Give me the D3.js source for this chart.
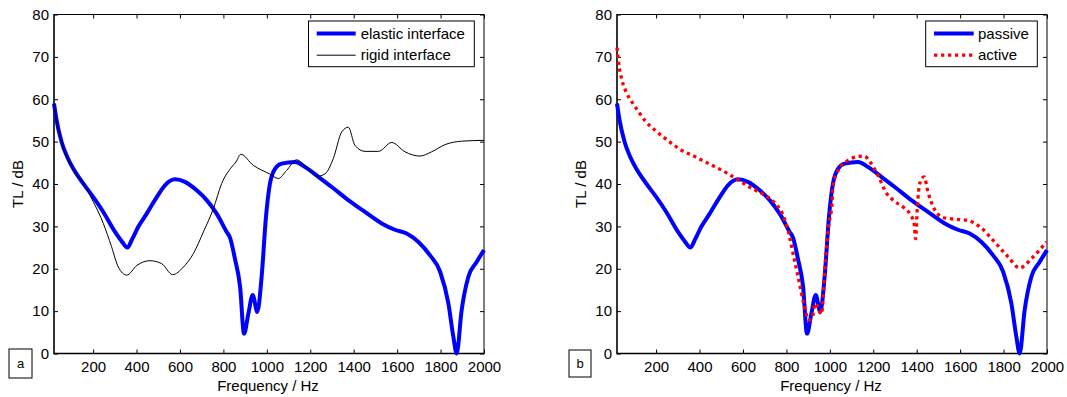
<!DOCTYPE html>
<html>
<head>
<meta charset="utf-8">
<script src="https://cdn.jsdelivr.net/npm/d3@7"></script>
<style>
  html, body { margin: 0; padding: 0; background: #fff; }
  svg { display: block; font-family: "Liberation Sans", Arial, sans-serif; }
</style>
</head>
<body>
<svg id="chart" width="1067" height="397"></svg>
<script>
// ---------------- data ----------------
const xTicks = [200, 400, 600, 800, 1000, 1200, 1400, 1600, 1800, 2000];
const yTicks = [0, 10, 20, 30, 40, 50, 60, 70, 80];

// elastic interface (panel a) == passive (panel b)
const elastic = [
  [20,59],[32,55],[55,49.9],[80,46.5],[109,43.6],[155,40.1],[201,36.9],[247,33.4],[301,28.7],
  [330,26.6],[358,25.0],[380,27],[408,29.9],[447,33],[493,36.9],[531,39.7],[577,41.1],[623,40.5],
  [677,38.5],[723,36.2],[769,33],[815,28.7],[830,27.4],[853,22.4],[877,15.7],[895,4.7],[915,9.4],
  [935,13.8],[956,9.8],[976,18.1],[996,32.2],[1014,40],[1038,43.6],[1068,44.8],[1130,45.2],
  [1176,44],[1237,41.7],[1299,39.3],[1375,36.2],[1452,33.4],[1529,30.7],[1590,29.2],[1644,28.3],
  [1698,26.3],[1751,23.2],[1798,19.3],[1836,11.8],[1859,3.9],[1874,0],[1897,10.2],[1928,18.1],
  [1966,21.6],[2000,24.4]
];

const rigid = [
  [20,58.8],[32,55],[55,49.9],[109,43.4],[155,40.1],[201,35.8],[247,30.7],[285,25.2],[316,20.4],
  [355,18.5],[402,20.8],[462,21.9],[516,21.2],[566,18.6],[616,20.4],[662,23.6],[708,28.7],
  [754,34.2],[792,40.1],[838,44],[858,45.2],[880,47],[938,44.4],[1012,42.4],[1053,41.3],
  [1091,43.2],[1137,45.7],[1183,44],[1230,41.8],[1268,42.4],[1306,46],[1345,52.3],[1375,53.4],
  [1406,49.1],[1452,47.7],[1514,47.7],[1575,49.8],[1636,47.6],[1705,46.6],[1759,47.6],
  [1821,49.3],[1897,50.1],[2000,50.3]
];

const passive = elastic;

const active = [
  [20,72.2],[28,68.4],[43,64.5],[66,61.3],[89,59.3],[120,57],[150,54.9],[204,52.3],[258,50.1],
  [319,47.9],[381,46.4],[442,44.8],[504,43.2],[573,41.1],[642,38.9],[703,37.3],[749,35.4],
  [780,33.2],[807,29.1],[834,22.8],[857,17.3],[880,11.8],[903,7.9],[918,8.3],[933,11.8],
  [948,10.6],[961,9.3],[979,21.2],[994,29.9],[1010,35.4],[1014,39.3],[1038,43.2],[1084,45.6],
  [1122,46.4],[1157,46.6],[1191,44.8],[1222,42],[1260,37.9],[1299,35.9],[1337,34.6],[1368,33],
  [1388,30.7],[1395,27.1],[1403,34.6],[1414,40.1],[1434,41.7],[1452,38.1],[1480,34.2],
  [1521,32.1],[1575,31.7],[1636,31.4],[1698,29.6],[1759,26.3],[1821,22.8],[1874,20.2],
  [1928,22.4],[1997,26.3]
];

// ---------------- drawing ----------------
const svg = d3.select("#chart");
const FONT = 15;
const yTop = 14.5, yBot = 353.5;

function panel(opts) {
  const g = svg.append("g");
  const x = d3.scaleLinear().domain([20, 2000]).range([opts.x0, opts.x1]);
  const y = d3.scaleLinear().domain([0, 80]).range([yBot, yTop]);

  // axes (ticks inward)
  const ax = g.append("g").attr("transform", `translate(0,${yBot})`)
    .call(d3.axisBottom(x).tickValues(xTicks).tickSize(-4).tickPadding(7.5).tickFormat(d3.format("d")));
  const axTop = g.append("g").attr("transform", `translate(0,${yTop})`)
    .call(d3.axisTop(x).tickValues(xTicks).tickSize(-4).tickFormat(""));
  const ay = g.append("g").attr("transform", `translate(${opts.x0},0)`)
    .call(d3.axisLeft(y).tickValues(yTicks).tickSize(-4).tickPadding(5));
  const ayR = g.append("g").attr("transform", `translate(${opts.x1},0)`)
    .call(d3.axisRight(y).tickValues(yTicks).tickSize(-4).tickFormat(""));
  [ax, axTop, ay, ayR].forEach(a => {
    a.select(".domain").remove();
    a.selectAll("line").attr("stroke", "#000").attr("stroke-width", 1);
    a.selectAll("text").attr("font-size", FONT).attr("fill", "#000")
      .attr("font-family", '"Liberation Sans", Arial, sans-serif');
  });

  // frame
  g.append("line").attr("x1", opts.x0).attr("x2", opts.x1).attr("y1", yTop).attr("y2", yTop)
    .attr("stroke", "#000").attr("stroke-width", 1);
  g.append("line").attr("x1", opts.x1).attr("x2", opts.x1).attr("y1", yTop).attr("y2", yBot)
    .attr("stroke", "#000").attr("stroke-width", 1);
  g.append("line").attr("x1", opts.x0).attr("x2", opts.x1 + 0.5).attr("y1", yBot).attr("y2", yBot)
    .attr("stroke", "#000").attr("stroke-width", 1.6);
  g.append("line").attr("x1", opts.x0).attr("x2", opts.x0).attr("y1", yTop - 0.5).attr("y2", yBot + 0.8)
    .attr("stroke", "#000").attr("stroke-width", 1.6);

  // series
  const line = d3.line().curve(d3.curveMonotoneX).x(d => x(d[0])).y(d => y(d[1]));
  opts.series.forEach(s => {
    g.append("path").datum(s.data).attr("d", line)
      .attr("fill", "none").attr("stroke", s.color).attr("stroke-width", s.width)
      .attr("stroke-dasharray", s.dash || null)
      .attr("stroke-linejoin", "round");
  });

  // legend
  const L = opts.legend;
  g.append("rect").attr("x", L.x).attr("y", 21).attr("width", L.w).attr("height", 45.7)
    .attr("fill", "#fff").attr("stroke", "#000").attr("stroke-width", 1);
  L.items.forEach((it, i) => {
    const yy = 33.5 + i * 21.7;
    g.append("line").attr("x1", L.lx0).attr("x2", L.lx1).attr("y1", yy).attr("y2", yy)
      .attr("stroke", it.color).attr("stroke-width", it.width)
      .attr("stroke-dasharray", it.dash || null);
    g.append("text").attr("x", L.tx).attr("y", yy).attr("dy", "0.35em")
      .attr("font-size", FONT).attr("fill", "#000").text(it.label);
  });

  // axis titles
  g.append("text").attr("x", (opts.x0 + opts.x1) / 2 - 1).attr("y", 391)
    .attr("text-anchor", "middle").attr("font-size", FONT).text("Frequency / Hz");
  g.append("text").attr("transform", `translate(${opts.x0 - 31.5},${(yTop + yBot) / 2}) rotate(-90)`)
    .attr("text-anchor", "middle").attr("font-size", FONT).text("TL / dB");

  // panel tag
  const T = opts.tag;
  g.append("rect").attr("x", T.x).attr("y", T.y).attr("width", T.w).attr("height", T.h)
    .attr("fill", "#fff").attr("stroke", "#000").attr("stroke-width", 1);
  g.append("text").attr("x", T.x + T.w / 2).attr("y", T.y + T.h / 2).attr("dy", "0.35em")
    .attr("text-anchor", "middle").attr("font-size", 13).text(T.label);
}

panel({
  x0: 54, x1: 484,
  series: [
    { data: elastic, color: "#0000ff", width: 4 },
    { data: rigid, color: "#000", width: 1 }
  ],
  legend: { x: 308.5, w: 165.8, lx0: 316.7, lx1: 355.7, tx: 360.7,
    items: [
      { label: "elastic interface", color: "#0000ff", width: 4 },
      { label: "rigid interface", color: "#000", width: 1 }
    ] },
  tag: { x: 9, y: 349, w: 23, h: 29, label: "a" }
});

panel({
  x0: 617, x1: 1047,
  series: [
    { data: passive, color: "#0000ff", width: 4 },
    { data: active, color: "#ff0000", width: 3.3, dash: "3.3,3.7" }
  ],
  legend: { x: 925.7, w: 111.6, lx0: 934, lx1: 973.7, tx: 978,
    items: [
      { label: "passive", color: "#0000ff", width: 4 },
      { label: "active", color: "#ff0000", width: 3.3, dash: "3.3,3.7" }
    ] },
  tag: { x: 569, y: 350, w: 22, h: 27, label: "b" }
});
</script>
</body>
</html>
